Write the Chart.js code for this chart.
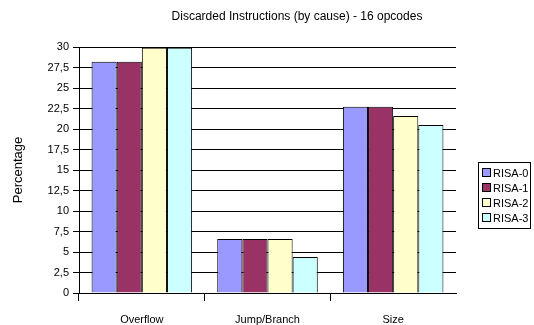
<!DOCTYPE html>
<html>
<head>
<meta charset="utf-8">
<script src="https://cdn.jsdelivr.net/npm/chart.js@4/dist/chart.umd.min.js"></script>
<style>
  html, body { margin:0; padding:0; background:#fff; }
  #wrap { width:534px; height:325px; }
</style>
</head>
<body>
<div id="wrap"><canvas id="chart" width="534" height="325"></canvas></div>
<script>

const categories = ['Overflow', 'Jump/Branch', 'Size'];

const seriesNames = ['RISA-0', 'RISA-1', 'RISA-2', 'RISA-3'];

const risa0 = [28.2, 6.6, 22.7];
const risa1 = [28.2, 6.6, 22.7];
const risa2 = [29.9, 6.6, 21.6];
const risa3 = [29.9, 4.4, 20.5];

const yTicks = [0, 2.5, 5, 7.5, 10, 12.5, 15, 17.5, 20, 22.5, 25, 27.5, 30];

const colors = ['#9999ff', '#993366', '#ffffcc', '#ccffff'];

const FONT = 'Arial, "Liberation Sans", sans-serif';

/* titulo e legenda desenhados a mao */

const extras = {
  id:'extras',
  afterDraw(chart){
    const ctx = chart.ctx;
    ctx.save();

    ctx.fillStyle = '#000';
    ctx.font = '12px ' + FONT;
    ctx.textAlign = 'center';
    ctx.textBaseline = 'middle';
    ctx.fillText('Discarded Instructions (by cause) - 16 opcodes', 297, 17);

    ctx.save();
    ctx.translate(18, 170);
    ctx.rotate(-Math.PI / 2);
    ctx.font = '13px ' + FONT;
    ctx.fillText('Percentage', 0, 0);
    ctx.restore();

    // legenda
    const lx = 478, ly = 162, lw = 52, lh = 66;
    ctx.strokeStyle = '#000';
    ctx.lineWidth = 1;
    ctx.strokeRect(lx + 0.5, ly + 0.5, lw, lh);
    ctx.font = '11px ' + FONT;
    ctx.textAlign = 'left';
    seriesNames.forEach((name, i) => {
      const y = ly + 11 + i * 15;
      ctx.fillStyle = colors[i];
      ctx.fillRect(lx + 4, y - 4, 8, 8);
      ctx.strokeStyle = '#000';
      ctx.strokeRect(lx + 4.5, y - 4.5, 8, 8);
      ctx.fillStyle = '#000';
      ctx.fillText(name, lx + 15, y + 1);
    });

    ctx.restore();
  }
};

const seriesData = [risa0, risa1, risa2, risa3];

new Chart(document.getElementById('chart'), {
  type:'bar',
  data:{
    labels:categories,
    datasets:seriesNames.map((name, i) => ({
      label:name,
      data:seriesData[i],
      backgroundColor:colors[i],
      borderColor:'#000',
      borderWidth:1,
      barPercentage:1,
      categoryPercentage:0.8
    }))
  },
  options:{
    responsive:false,
    animation:false,
    layout:{ padding:{ top:47, right:78, bottom:0, left:0 } },
    plugins:{
      legend:{ display:false },
      title:{ display:false },
      tooltip:{ enabled:false }
    },
    scales:{
      x:{
        grid:{
          offset:true,
          drawOnChartArea:false,
          color:c => c.index < categories.length ? '#000' : 'rgba(0,0,0,0)',
          tickLength:8
        },
        border:{ color:'#000' },
        ticks:{
          color:'#000',
          font:{ family:FONT, size:11 },
          padding:12
        },
        afterFit(scale){ scale.height = 32; }
      },
      y:{
        min:0,
        max:30,
        afterBuildTicks(scale){
          scale.ticks = yTicks.map(v => ({ value:v }));
        },
        grid:{
          color:'#000',
          tickLength:6
        },
        border:{ color:'#000' },
        ticks:{
          color:'#000',
          font:{ family:FONT, size:11 },
          padding:4,
          callback:v => String(v).replace('.', ',')
        },
        afterFit(scale){ scale.width = 79; }
      }
    }
  },
  plugins:[extras]
});
</script>
</body>
</html>
